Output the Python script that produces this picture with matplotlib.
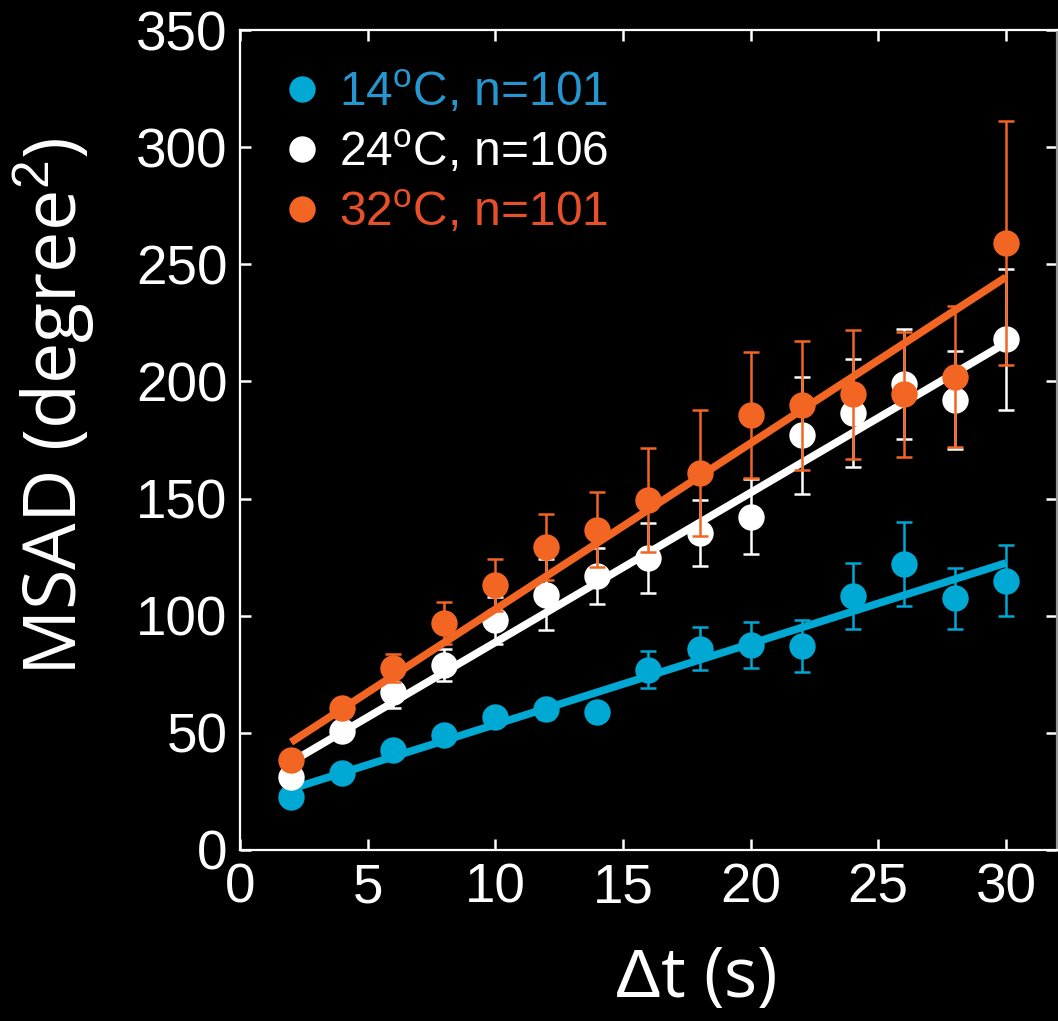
"""
MSAD vs lag time for three temperatures, black background figure
"""

import matplotlib
matplotlib.use("Agg")
import matplotlib.pyplot as plt
from matplotlib.lines import Line2D
import numpy as np

plt.rcParams["font.family"] = ["Liberation Sans", "DejaVu Sans"]
plt.rcParams["mathtext.fontset"] = "custom"
plt.rcParams["mathtext.rm"] = "Liberation Sans"
plt.rcParams["mathtext.it"] = "Liberation Sans:italic"

# lag times (s)
dt = [2, 4, 6, 8, 10, 12, 14, 16, 18, 20, 22, 24, 26, 28, 30]

# 14 C
msad_14 = [22.6, 33, 42.7, 49, 56.8, 60, 59, 77, 86, 87.5, 87, 108.5, 122, 107.5, 115]
err_14 = [1.5, 2, 2, 2.5, 3, 4, 3, 8, 9, 10, 11, 14, 18, 13, 15]
fit_14 = [26.0, 122.5]

# 24 C
msad_24 = [31, 51, 67.4, 79, 98, 109, 117, 124.6, 135.3, 142.2, 177, 186.6, 199, 192, 218]
err_24 = [2, 3, 7, 7, 10, 15, 12, 15, 14, 16, 25, 23, 23.5, 21, 30]
fit_24 = [37.5, 216.4]

# 32 C
msad_32 = [38.4, 60.6, 77.7, 96.9, 113, 129.3, 136.6, 149.4, 161, 185.7, 189.8, 194.5, 194.5, 202, 259]
err_32 = [2, 4, 6, 9, 11, 14, 16, 22, 27, 27, 27.5, 27.6, 26.7, 30, 52]
fit_32 = [46.0, 244.5]

labels = ["14$^{\\mathrm{o}}$C, n=101", "24$^{\\mathrm{o}}$C, n=106", "32$^{\\mathrm{o}}$C, n=101"]
marker_colors = ["#00A9D4", "#FFFFFF", "#F26522"]
text_colors = ["#2596CF", "#FFFFFF", "#E8502A"]

fig = plt.figure(figsize=(10.58, 10.21), dpi=100, facecolor="black")
ax = fig.add_axes([0.2268, 0.1675, 0.7722, 0.8031])
ax.set_facecolor("black")

series = [(msad_14, err_14, fit_14), (msad_24, err_24, fit_24), (msad_32, err_32, fit_32)]
for i, (vals, errs, fit) in enumerate(series):
    c = marker_colors[i]
    ax.errorbar(dt, vals, yerr=errs, fmt="o", color=c, ms=19, mec="none",
                elinewidth=1.8, capsize=6, capthick=1.8, zorder=2 + i)
    ax.plot([dt[0], dt[-1]], fit, color=c, lw=5.5, solid_capstyle="butt", zorder=2.5 + i)

ax.set_xlim(0, 32)
ax.set_ylim(0, 350)
ax.set_xticks(np.arange(0, 31, 5))
ax.set_yticks(np.arange(0, 351, 50))

for side, sp in ax.spines.items():
    sp.set_color("white")
    sp.set_linewidth(1.6)
ax.spines["right"].set_color("#999999")

ax.tick_params(direction="in", length=8, width=1.8, colors="white",
               top=True, right=True, labelsize=39.5, pad=9)

label_font = ["Open Sans", "DejaVu Sans"]
ax.set_xlabel("$\\Delta$t (s)", fontsize=50, color="white", family=label_font,
              labelpad=18)
ax.xaxis.set_label_coords(0.557, -0.115)
ax.set_ylabel("MSAD (degree$^2$)", fontsize=53, color="white", family=label_font,
              labelpad=28)
ax.yaxis.label.set_y(0.54)

handles = [Line2D([], [], ls="none", marker="o", ms=19, mec="none", color=c)
           for c in marker_colors]
leg = ax.legend(handles, labels, loc="upper left", bbox_to_anchor=(0.035, 0.975),
                frameon=False, fontsize=34.5, handlelength=0.6, handletextpad=0.48,
                labelspacing=0.28, borderaxespad=0)
for t, c in zip(leg.get_texts(), text_colors):
    t.set_color(c)

fig.savefig("out.png", dpi=100, facecolor="black")
